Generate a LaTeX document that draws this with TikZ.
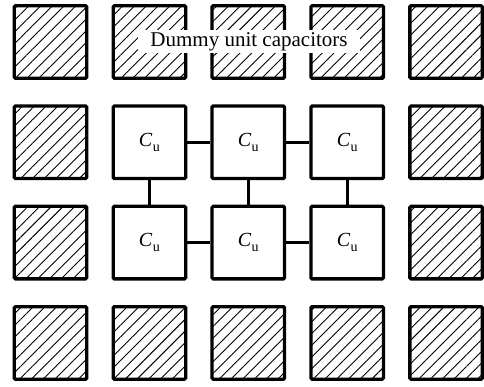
\documentclass[tikz,border=0pt]{standalone}
\usepackage{fontspec}
\setmainfont{Liberation Serif}
\usetikzlibrary{patterns.meta}
\begin{document}
\begin{tikzpicture}[x=1pt,y=-1pt,
  dummybox/.style={draw,line width=3.3pt,minimum width=72.5pt,minimum height=72.5pt,rounded corners=1.2pt,
    pattern={Lines[angle=45,distance=8.3pt,line width=0.9pt]},inner sep=0pt},
  capbox/.style={draw,line width=3.3pt,minimum width=72.5pt,minimum height=72.5pt,rounded corners=1.2pt,fill=white,
    font=\fontsize{20}{24}\selectfont,inner sep=0pt},
  wire/.style={line width=3pt},
  lbl/.style={fill=white,inner xsep=12pt,minimum height=23pt,inner ysep=0pt,font=\fontsize{21}{25}\selectfont}]
\useasboundingbox (0,0) rectangle (484,387);
\foreach \i in {0,...,4}{
  \foreach \j in {0,...,3}{
    \pgfmathsetmacro{\xx}{50.5+98.9*\i}
    \pgfmathsetmacro{\yy}{42+100.3*\j}
    \coordinate (p\i\j) at (\xx,\yy);
  }
}
% dummy boxes
\foreach \i in {0,...,4}{
  \node[dummybox] (d\i0) at (p\i0) {};
  \node[dummybox] (d\i3) at (p\i3) {};
}
\foreach \j in {1,2}{
  \node[dummybox] (d0\j) at (p0\j) {};
  \node[dummybox] (d4\j) at (p4\j) {};
}
% unit capacitors
\foreach \i in {1,2,3}{
  \foreach \j in {1,2}{
    \node[capbox] (c\i\j) at (p\i\j) {\itshape C\kern0.5pt\raisebox{-0.28em}{\upshape\fontsize{14}{16}\selectfont u}};
  }
}
\draw[wire] (c11) -- (c21);
\draw[wire] (c21) -- (c31);
\draw[wire] (c12) -- (c22);
\draw[wire] (c22) -- (c32);
\draw[wire] (c11) -- (c12);
\draw[wire] (c21) -- (c22);
\draw[wire] (c31) -- (c32);
\node[lbl] (label) at (249,41.5) {Dummy unit capacitors};
\end{tikzpicture}
\end{document}
